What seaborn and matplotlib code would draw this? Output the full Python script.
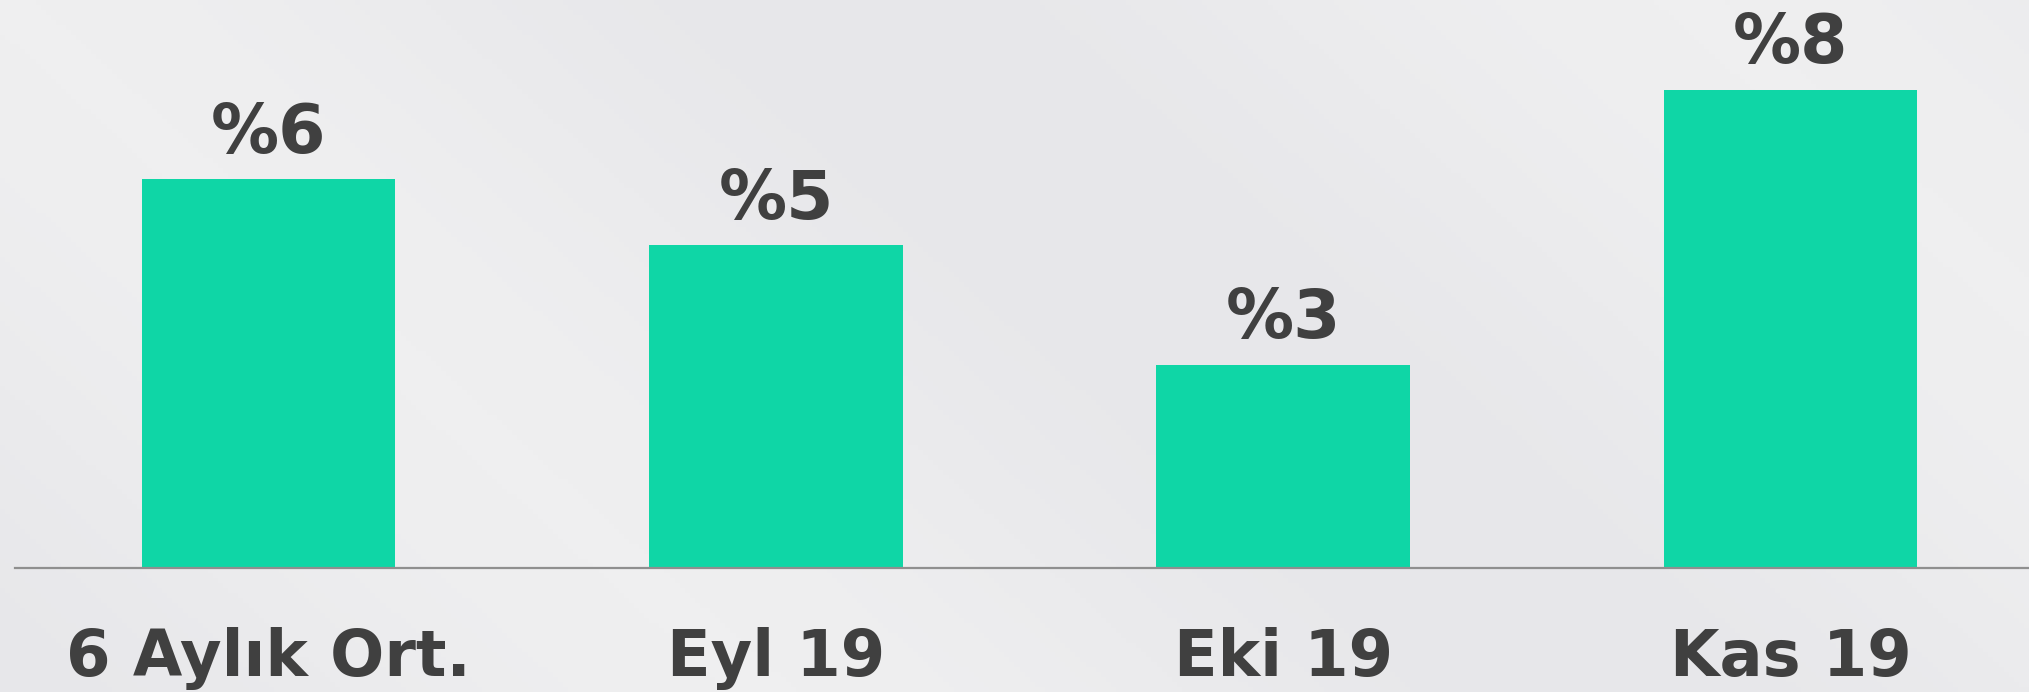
import numpy as np
import pandas as pd
import seaborn as sns
import matplotlib.pyplot as plt

# values (bar heights), labels as printed
categories = ["6 Aylık Ort.", "Eyl 19", "Eki 19", "Kas 19"]
values = [6.5, 5.4, 3.4, 8.0]
value_labels = ["%6", "%5", "%3", "%8"]

df = pd.DataFrame({"period": categories, "rate": values})

sns.set_theme(style="white")
plt.rcParams["font.family"] = ["DejaVu Sans"]

fig = plt.figure(figsize=(20.29, 6.92), dpi=100)
fig.patch.set_facecolor("#ececee")

# soft background gradient
bg = fig.add_axes([0, 0, 1, 1], zorder=-1)
gx, gy = np.meshgrid(np.linspace(0, 1, 400), np.linspace(0, 1, 140))
grad = 0.5 + 0.5 * np.cos((gx * 2.4 - gy * 0.9) * np.pi)
bg.imshow(grad, cmap=sns.blend_palette(["#e7e7ea", "#efeff0"], as_cmap=True),
          aspect="auto", extent=[0, 1, 0, 1])
bg.axis("off")

ax = fig.add_axes([15 / 2029, 124 / 692, 1 - 15 / 2029, 568 / 692])
ax.patch.set_alpha(0)

sns.barplot(data=df, x="period", y="rate", color="#0fd6a6", saturation=1,
            width=0.5, linewidth=0, ax=ax)

ax.bar_label(ax.containers[0], labels=value_labels, padding=9,
             fontsize=49, fontweight="bold", color="#404040")

ax.set_xlim(-0.5, 3.47)
ax.set_ylim(0, 9.5)
ax.set_xlabel("")
ax.set_ylabel("")
ax.set_yticks([])
ax.tick_params(axis="x", length=0, pad=42.5)
for lbl in ax.get_xticklabels():
    lbl.set_fontsize(46)
    lbl.set_fontweight("bold")
    lbl.set_color("#404040")

for side in ["left", "top", "right"]:
    ax.spines[side].set_visible(False)
ax.spines["bottom"].set_color("#8f8f8f")
ax.spines["bottom"].set_linewidth(1.6)

fig.savefig("out.png", dpi=100, facecolor=fig.get_facecolor())
